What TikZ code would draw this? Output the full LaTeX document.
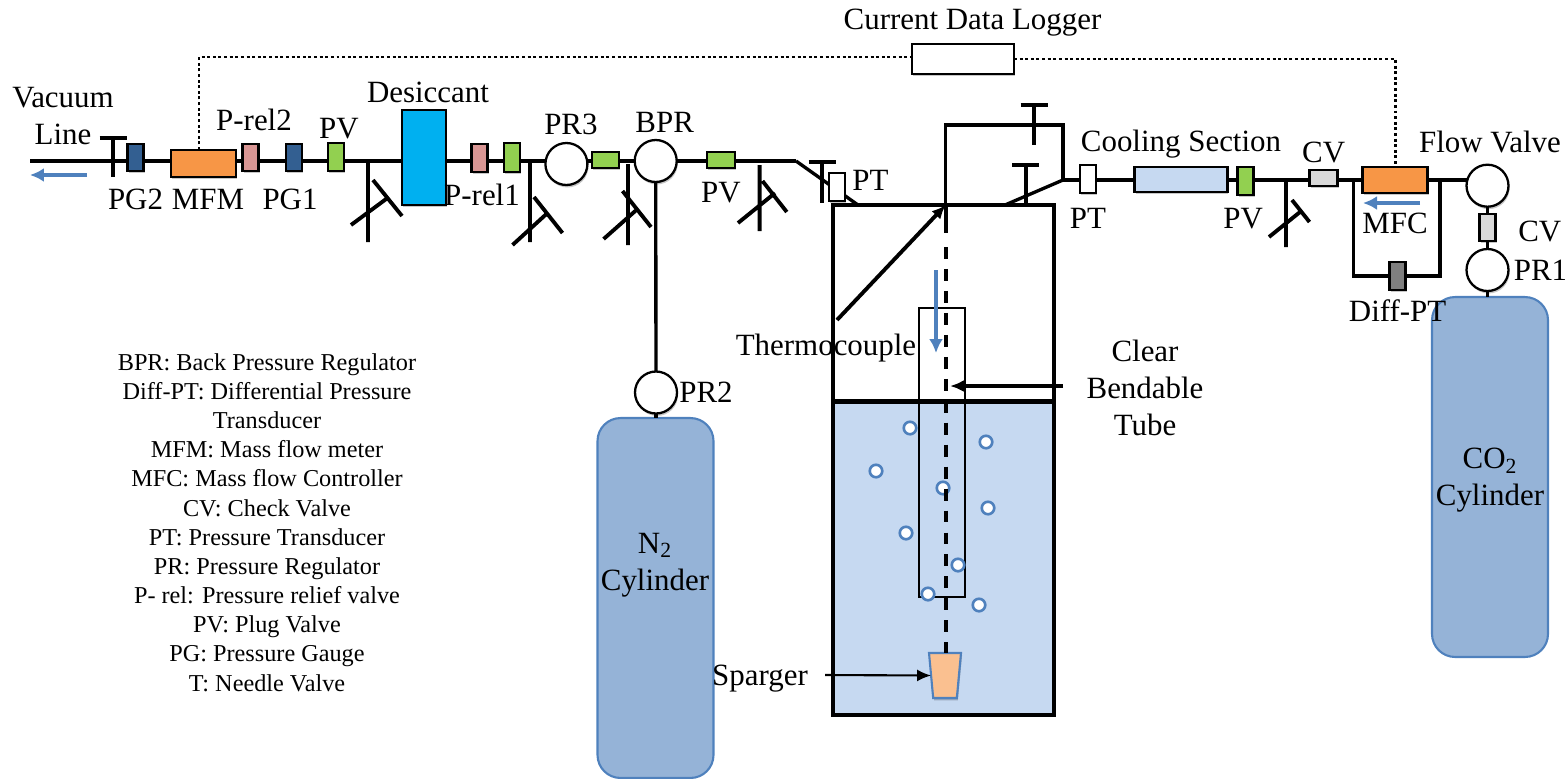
\documentclass[tikz,border=0pt]{standalone}
\usepackage{fontspec}
\setmainfont{Liberation Serif}
\usetikzlibrary{arrows.meta,positioning,shapes.geometric,shadows}
\definecolor{rigOrange}{RGB}{247, 150, 70}
\definecolor{rigNavy}{RGB}{51, 95, 145}
\definecolor{rigPink}{RGB}{217, 150, 148}
\definecolor{rigGreen}{RGB}{146, 208, 80}
\definecolor{rigCyan}{RGB}{0, 176, 240}
\definecolor{rigLightBlue}{RGB}{198, 217, 241}
\definecolor{rigSteel}{RGB}{149, 179, 215}
\definecolor{rigBlue}{RGB}{79, 129, 189}
\definecolor{rigGrey}{RGB}{217, 217, 217}
\definecolor{rigDarkGrey}{RGB}{127, 127, 127}
\definecolor{rigPeach}{RGB}{250, 192, 144}

\begin{document}
\begin{tikzpicture}[
  x=.02cm,y=-.02cm,
  lbl/.style={inner sep=0pt,align=center,font=\fontsize{17.6}{21}\selectfont},
  legend/.style={inner sep=0pt,align=center,font=\fontsize{13.8}{16.6}\selectfont},
  part/.style={draw,line width=1.5pt,inner sep=0pt,outer sep=0pt,
    drop shadow={shadow xshift=.6pt,shadow yshift=-1.4pt,opacity=.22,fill=black}},
  vbox/.style={part,minimum width=.32cm,minimum height=.54cm},
  hbox/.style={part,minimum width=.54cm,minimum height=.32cm},
  gauge/.style={part,circle,fill=white,line width=1.3pt,minimum size=.84cm},
  pipe/.style={line width=1.9pt},
  valve/.style={line width=2.2pt},
  signal/.style={line width=1.7pt,dash pattern=on 1.7pt off 1.5pt},
  cylinder/.style={draw=rigBlue,fill=rigSteel,line width=1.2pt,rounded corners=.46cm,
    inner sep=0pt,outer sep=0pt,minimum width=2.32cm},
  bubble/.style={circle,draw=rigBlue,fill=white,line width=1.5pt,inner sep=0pt,minimum size=.25cm},
  flow/.style={-{Latex[length=2.8mm,width=2.8mm]},line width=2.3pt,rigBlue},
  arrow/.style={-{Latex[length=2.8mm,width=2.4mm]},line width=2pt}
]
  \useasboundingbox (0,0) rectangle (1565,778);

  \coordinate (vacEnd) at (30,161);
  \coordinate (bendA) at (796,161);
  \coordinate (sideOut) at (858,205);
  \coordinate (vesselTop) at (945.7,205);
  \coordinate (loopTop) at (1063,125);
  \coordinate (bendB) at (1063,180);
  \coordinate (sideIn) at (1005,205);
  \coordinate (bypassL) at (1353.7,180);
  \coordinate (bypassR) at (1440,180);
  \coordinate (loggerL) at (199,57);
  \coordinate (loggerR) at (1395.4,59);

  \node[draw=none,fill=rigLightBlue,minimum width=4.42cm,minimum height=6.26cm,inner sep=0pt] (liquid) at (943.5,558.5) {};
  \node[draw,line width=2pt,minimum width=4.42cm,minimum height=10.2cm,inner sep=0pt,outer sep=0pt] (vessel) at (943.5,460) {};
  \draw[line width=2.8pt] (liquid.north west) -- (liquid.north east);
  \node[draw,line width=1.4pt,minimum width=.92cm,minimum height=5.78cm,inner sep=0pt] (tube) at (942,452.5) {};

  \foreach \bx/\by [count=\i] in {910/428,986/442,876/471,943/488,988/508,906/533,958/565,928/594,979/605}
    \node[bubble] (bubble\i) at (\bx,\by) {};

  \draw[pipe] (bendA) -- (sideOut);
  \draw[pipe] (vesselTop) |- (loopTop) -- (bendB);
  \draw[pipe] (sideIn) -- (bendB);

  \node[vbox,fill=rigNavy] (pgB) at (135.5,157.5) {};
  \node[part,fill=rigOrange,minimum width=1.3cm,minimum height=.54cm] (mfm) at (203.5,163.5) {};
  \node[vbox,fill=rigPink] (prelB) at (250.5,157.5) {};
  \node[vbox,fill=rigNavy] (pgA) at (294,157.5) {};
  \node[vbox,fill=rigGreen,minimum height=.56cm] (pvA) at (336,157) {};
  \node[part,fill=rigCyan,minimum width=.88cm,minimum height=1.9cm] (desiccant) at (424,157.5) {};
  \node[vbox,fill=rigPink,minimum height=.56cm] (prelA) at (479.5,158) {};
  \node[vbox,fill=rigGreen,minimum height=.58cm] (pvB) at (512,157.5) {};
  \node[gauge] (pr3) at (566.4,164) {};
  \node[hbox,fill=rigGreen] (pvC) at (605.5,160) {};
  \node[gauge] (bpr) at (655.7,161) {};
  \node[hbox,fill=rigGreen,minimum width=.56cm] (pvD) at (721,160) {};
  \node[vbox,fill=white,minimum height=.56cm] (ptA) at (837,187) {};
  \node[vbox,fill=white,minimum height=.56cm] (ptB) at (1088,179) {};
  \node[part,fill=rigLightBlue,minimum width=1.85cm,minimum height=.5cm] (cooling) at (1181,179.5) {};
  \node[vbox,fill=rigGreen,minimum height=.56cm] (pvE) at (1245.7,181) {};
  \node[hbox,fill=rigGrey,minimum width=.56cm] (cvA) at (1323.6,178) {};
  \node[part,fill=rigOrange,minimum width=1.3cm,minimum height=.52cm] (mfc) at (1395,180) {};
  \node[gauge] (flowValve) at (1487.5,185.7) {};
  \node[vbox,fill=rigGrey] (cvB) at (1487.5,227.5) {};
  \node[gauge] (pr1) at (1487.5,270) {};
  \node[gauge] (pr2) at (656,392.5) {};
  \node[vbox,fill=rigDarkGrey,minimum height=.56cm] (diffPt) at (1397.6,276) {};
  \node[cylinder,minimum height=7.2cm] (n2) at (655.5,598) {};
  \node[cylinder,minimum height=7.2cm] (co2) at (1490,477) {};
  \node[part,fill=white,minimum width=2.04cm,minimum height=.6cm] (logger) at (963,59) {};
  \node[part,fill=rigPeach,draw=rigBlue,line width=1.2pt,trapezium,shape border rotate=180,trapezium stretches=true,
    inner sep=1pt,trapezium angle=80,minimum width=.64cm,minimum height=.9cm] (sparger) at (945,675.5) {};

  \draw[pipe] (vacEnd) -- (pgB.west |- vacEnd);
  \foreach \a/\b in {pgB/mfm,mfm/prelB,prelB/pgA,pgA/pvA,pvA/desiccant,desiccant/prelA,prelA/pvB,pvB/pr3,pr3/pvC,pvC/bpr,bpr/pvD}
    \draw[pipe] (\a.east |- vacEnd) -- (\b.west |- vacEnd);
  \draw[pipe] (pvD.east |- vacEnd) -- (bendA);
  \draw[pipe] (bendB) -- (ptB.west |- bendB);
  \foreach \a/\b in {ptB/cooling,cooling/pvE,pvE/cvA,cvA/mfc,mfc/flowValve}
    \draw[pipe] (\a.east |- bendB) -- (\b.west |- bendB);
  \draw[pipe] (bpr) -- (pr2);
  \draw[pipe] (pr2) -- (n2.north -| pr2);
  \draw[pipe] (flowValve) -- (cvB);
  \draw[pipe] (cvB) -- (pr1);
  \draw[pipe] (pr1) -- (co2.north -| pr1);
  \draw[pipe] (bypassL) |- (diffPt.west);
  \draw[pipe] (bypassR) |- (diffPt.east);
  \draw[signal] (mfm.north -| loggerL) -- (loggerL) -- (logger.west |- loggerL);
  \draw[signal] (logger.east |- loggerR) -- (loggerR) -- (loggerR |- mfc.north);

  \foreach \vx/\vt/\vb in {113/138/177,822/162/203,1034/105/145,1025.7/165/205}
    \draw[valve] (\vx-13.5,\vt) -- (\vx+13.5,\vt) (\vx,\vt) -- (\vx,\vb);
  \foreach \bx/\bt/\bb/\sax/\say/\sbx/\sby/\cax/\cay/\cbx/\cby in {
    368/161/242/351/225/387.5/198/373/180/402/216,
    530/161/242/512.5/245/546.4/214/534/197/562.5/233,
    628/164/245/603.6/239/637.5/209/622.5/191/651/227,
    759.6/165/231/738/223/775/193/762.5/181/786.8/212,
    1286/181/247/1269/237/1300/212/1292/200/1309.5/222}
    \draw[valve] (\sax,\say) -- (\sbx,\sby) (\cax,\cay) -- (\cbx,\cby) (\bx,\bt) -- (\bx,\bb);

  \coordinate (tcSolid) at (945.7,233);
  \coordinate (tcDash) at (945.7,247);
  \draw[valve] (vesselTop) -- (tcSolid);
  \draw[valve,dash pattern=on 6.8pt off 5.7pt] (tcDash) -- (sparger.north -| tcDash);

  \coordinate (tcTail) at (837,320);
  \coordinate (tubeTail) at (1063,386);
  \coordinate (tubeTip) at (950,386);
  \coordinate (spargerTail) at (825,675);
  \draw[arrow,line width=2.2pt] (tcTail) -- (vesselTop);
  \draw[arrow] (tubeTail) -- (tubeTip);
  \draw[arrow,line width=1.2pt] (spargerTail) -- (sparger.west);

  \coordinate (vacFlowA) at (87,175);
  \coordinate (vacFlowB) at (30,175);
  \coordinate (mfcFlowA) at (1420,203);
  \coordinate (mfcFlowB) at (1363,203);
  \coordinate (tubeFlowA) at (936,270);
  \coordinate (tubeFlowB) at (936,353);
  \draw[flow] (vacFlowA) -- (vacFlowB);
  \draw[flow] (mfcFlowA) -- (mfcFlowB);
  \draw[flow] (tubeFlowA) -- (tubeFlowB);

  \node[lbl] (vacLabel) at (63,116) {Vacuum\\Line};
  \node[lbl,below=.36cm of pgB] (pgBLabel) {PG2};
  \node[lbl,below=.24cm of mfm,xshift=.09cm] (mfmLabel) {MFM};
  \node[lbl,above=.25cm of prelB,xshift=.07cm] (prelBLabel) {P-rel2};
  \node[lbl,below=.36cm of pgA,xshift=-.08cm] (pgALabel) {PG1};
  \node[lbl,above=.07cm of pvA,xshift=.06cm] (pvALabel) {PV};
  \node[lbl,above=.14cm of desiccant,xshift=.08cm] (desiccantLabel) {Desiccant};
  \node[lbl] (prelALabel) at (482,195) {P-rel1};
  \node[lbl,above=.16cm of pr3,xshift=.09cm] (pr3Label) {PR3};
  \node[lbl,above=.14cm of bpr,xshift=.18cm] (bprLabel) {BPR};
  \node[lbl,below=.27cm of pvD] (pvDLabel) {PV};
  \node[lbl,right=.14cm of ptA,yshift=.14cm] (ptALabel) {PT};
  \node[lbl,below=.29cm of ptB] (ptBLabel) {PT};
  \node[lbl,above=.16cm of cooling] (coolingLabel) {Cooling Section};
  \node[lbl,below=.26cm of pvE,xshift=-.05cm] (pvELabel) {PV};
  \node[lbl,above=.13cm of cvA] (cvALabel) {CV};
  \node[lbl,below=.39cm of mfc] (mfcLabel) {MFC};
  \node[lbl,above=.23cm of flowValve,xshift=.05cm] (flowValveLabel) {Flow Valve};
  \node[lbl,right=.45cm of cvB,yshift=-.07cm] (cvBLabel) {CV};
  \node[lbl,right=.1cm of pr1] (pr1Label) {PR1};
  \node[lbl,below=.19cm of diffPt] (diffPtLabel) {Diff-PT};
  \node[lbl,right=.04cm of pr2] (pr2Label) {PR2};
  \node[lbl,above=.14cm of logger,xshift=.19cm] (loggerLabel) {Current Data Logger};
  \node[lbl] (tcLabel) at (826,348) {Thermocouple};
  \node[lbl] (tubeLabel) at (1145,388) {Clear\\Bendable\\Tube};
  \node[lbl] (spargerLabel) at (760,679) {Sparger};
  \node[lbl] (n2Label) at (655,565) {N\textsubscript{2}\\Cylinder};
  \node[lbl] (co2Label) at (1490,480) {CO\textsubscript{2}\\Cylinder};
  \node[legend] (legendBox) at (267,522.5) {BPR: Back Pressure Regulator\\
    Diff-PT: Differential Pressure\\Transducer\\MFM: Mass flow meter\\
    MFC: Mass flow Controller\\CV: Check Valve\\PT: Pressure Transducer\\
    PR: Pressure Regulator\\P- rel: Pressure relief valve\\PV: Plug Valve\\
    PG: Pressure Gauge\\T: Needle Valve};
\end{tikzpicture}
\end{document}
